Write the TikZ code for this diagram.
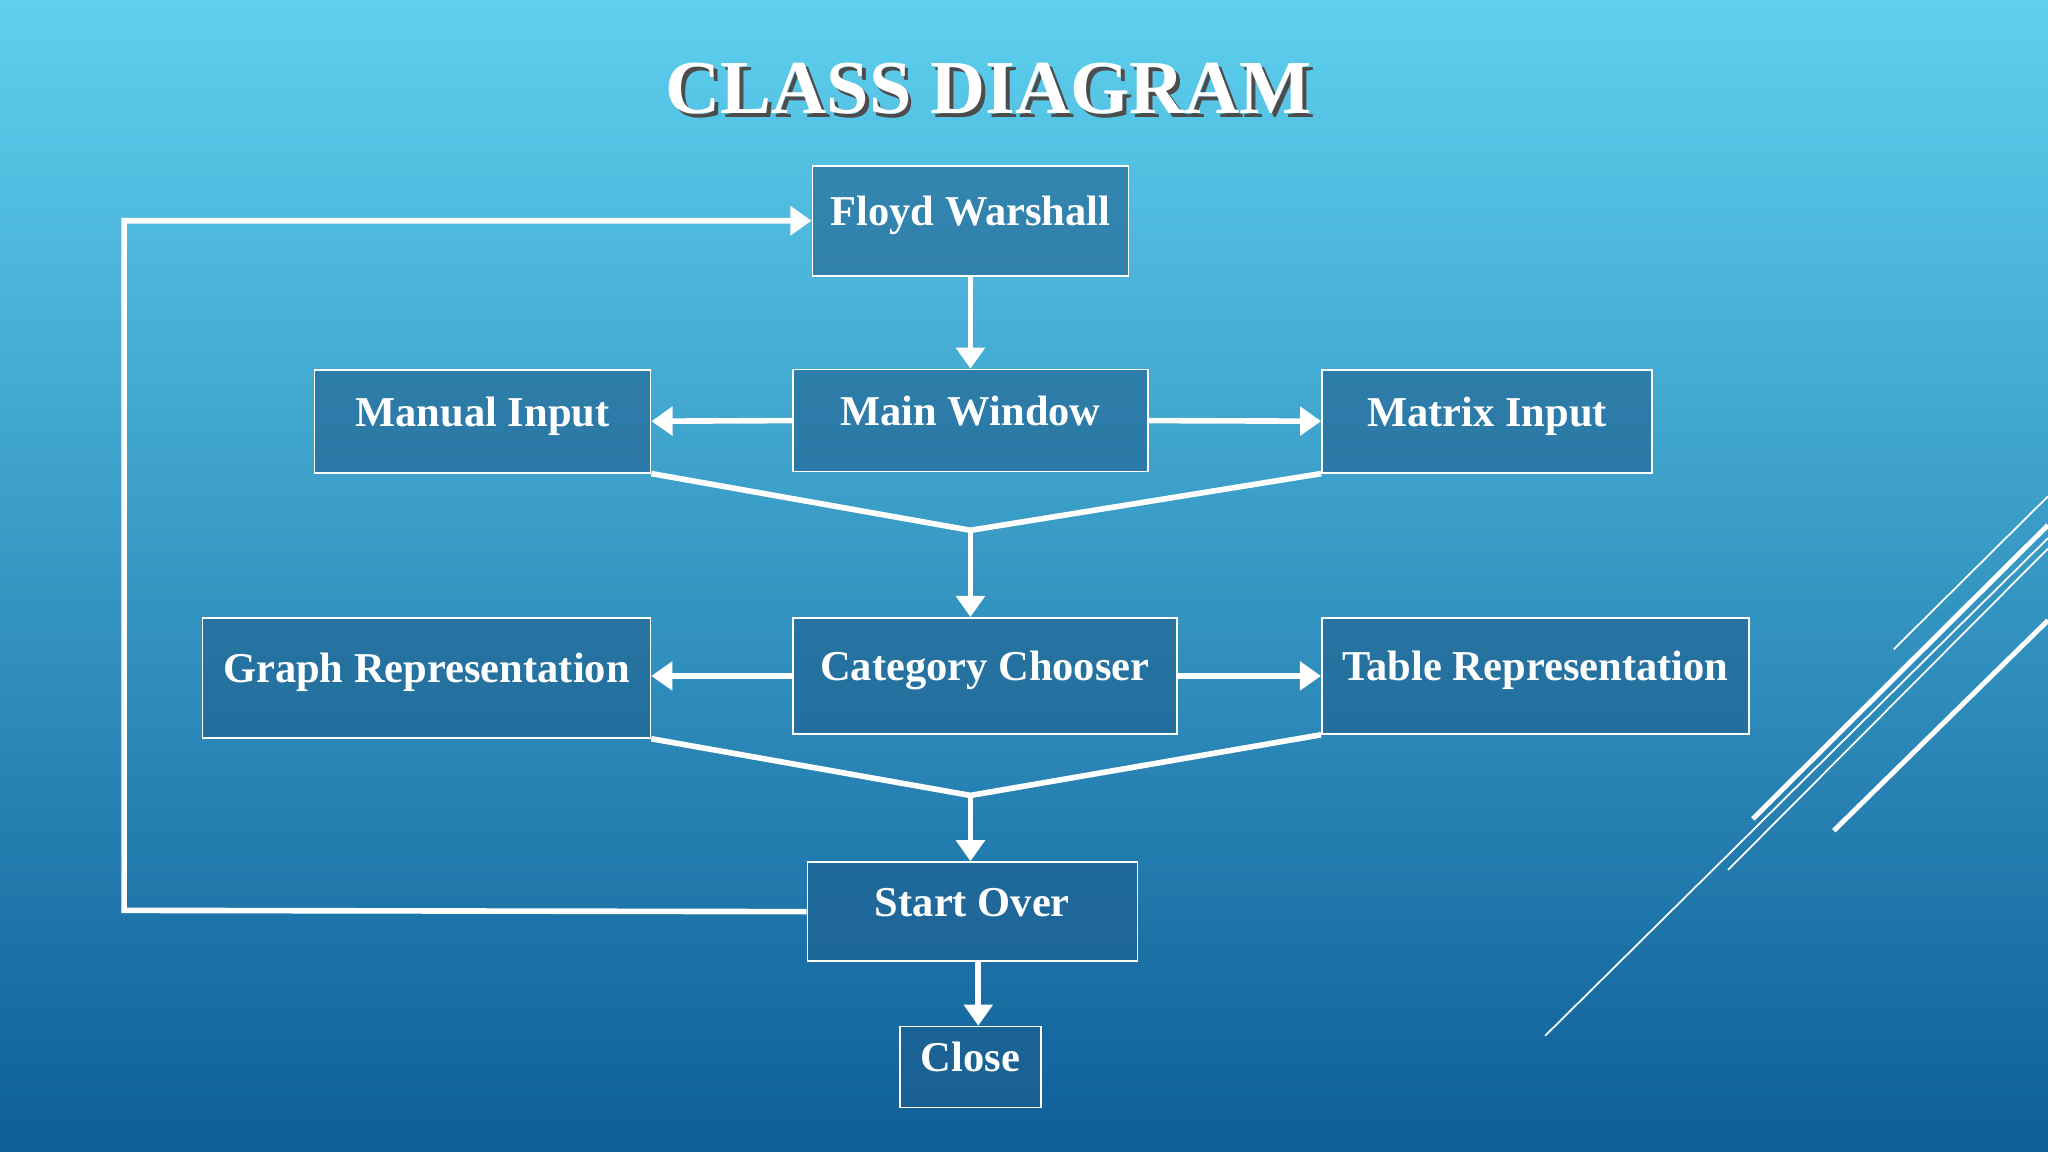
\documentclass[tikz,border=0pt]{standalone}
\usepackage{fontspec}
\setmainfont{Liberation Serif}
\usetikzlibrary{arrows.meta}
\definecolor{bgtop}{HTML}{5ED0EE}
\definecolor{bgbot}{HTML}{0E5E98}
\definecolor{boxfill}{HTML}{1F5F8E}
\begin{document}
\begin{tikzpicture}[x=0.01306cm,y=-0.01306cm,>={Triangle[length=6pt,width=8pt]},
	box/.style={draw=white,line width=0.5pt,fill=boxfill,fill opacity=0.6,text opacity=1,
		text=white,inner sep=0pt,text height=1.5ex,text depth=0.9ex,
		font=\fontsize{12.1}{15}\selectfont\bfseries},
	link/.style={draw=white,line width=1.6pt}]
	
	% hatter
	\shade[top color=bgtop,bottom color=bgbot] (0,0) rectangle (1568,882);
	\useasboundingbox (0,0) rectangle (1568,882);
	
	% diszito vonalak
	\draw[white,line width=0.5pt] (1450,497) -- (1568,380);
	\draw[white,line width=1.4pt] (1342,627) -- (1568,402);
	\draw[white,line width=0.5pt] (1323,666) -- (1568,420);
	\draw[white,line width=1.4pt] (1404,636) -- (1568,475);
	\draw[white,line width=0.5pt] (1183,793) -- (1568,412);
	
	% cim
	\node[text=black!70,font=\fontsize{21.7}{26}\selectfont\bfseries] at (760,71) {CLASS DIAGRAM};
	\node[text=white,font=\fontsize{21.7}{26}\selectfont\bfseries] (title) at (757,68) {CLASS DIAGRAM};
	
	% blokkok
	\node[box,minimum width=3.16cm,minimum height=1.10cm] (floyd) at (743,169) {Floyd Warshall};
	\node[box,minimum width=3.55cm,minimum height=1.02cm] (main) at (743,322) {Main Window};
	\node[box,minimum width=3.36cm,minimum height=1.03cm] (manual) at (369.5,322.5) {Manual Input};
	\node[box,minimum width=3.30cm,minimum height=1.03cm] (matrix) at (1138.5,322.5) {Matrix Input};
	\node[box,minimum width=4.48cm,minimum height=1.20cm] (graph) at (326.5,519) {Graph Representation};
	\node[box,minimum width=3.84cm,minimum height=1.16cm] (category) at (754,517.5) {Category Chooser};
	\node[box,minimum width=4.27cm,minimum height=1.16cm] (table) at (1175.5,517.5) {Table Representation};
	\node[box,minimum width=3.30cm,minimum height=0.99cm] (start) at (744.5,698) {Start Over};
	\node[box,minimum width=1.41cm,minimum height=0.81cm] (close) at (743,817) {Close};
	
	% osszefuto pontok
	\coordinate (join1) at (743,406);
	\coordinate (join2) at (743,609);
	\coordinate (loop) at (95,697);
	\coordinate (down) at (749,0);
	
	% nyilak
	\draw[link,->] (floyd.south) -- (main.north);
	\draw[link,->] (main.west) -- (manual.east);
	\draw[link,->] (main.east) -- (matrix.west);
	\draw[link] (manual.south east) -- (join1) -- (matrix.south west);
	\draw[link,->] (join1) -- (join1 |- category.north);
	\draw[link,->] (category.west) -- (graph.east |- category.west);
	\draw[link,->] (category.east) -- (table.west);
	\draw[link] (graph.south east) -- (join2) -- (table.south west);
	\draw[link,->] (join2) -- (start.north -| join2);
	\draw[link,->] (start.west) -- (loop) |- (floyd.west);
	\draw[link,->] (start.south -| down) -- (close.north -| down);
\end{tikzpicture}
\end{document}
